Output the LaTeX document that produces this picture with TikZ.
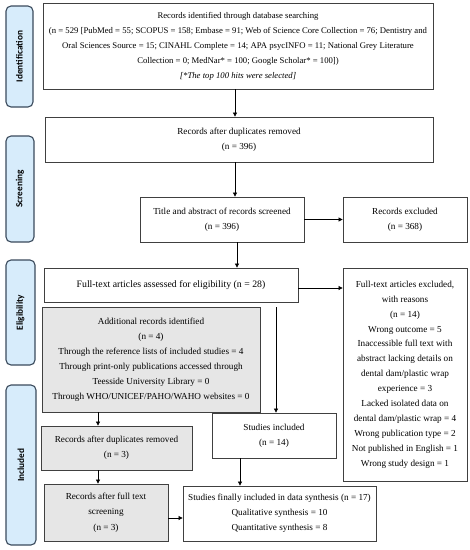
\documentclass[tikz,border=0pt]{standalone}
\usepackage{fontspec}
\setmainfont{Liberation Serif}
\newfontfamily\sidefont{Carlito}
\usetikzlibrary{arrows.meta,calc}
\definecolor{sideblue}{HTML}{D7ECFB}
\definecolor{sideedge}{HTML}{3A4A5C}
\definecolor{boxgray}{HTML}{E6E6E6}
\definecolor{edgegray}{HTML}{404040}
\tikzset{
  box/.style={draw=edgegray, line width=0.8pt, fill=white, inner sep=0pt, align=center,
    font=\fontsize{9.2}{14.8}\selectfont},
  graybox/.style={box, fill=boxgray},
  side/.style={draw=sideedge, line width=1.1pt, fill=sideblue, rounded corners=5pt, inner sep=0pt},
  sidetext/.style={rotate=90, font=\sidefont\bfseries\fontsize{9.3}{10}\selectfont},
  arr/.style={draw=black, line width=0.7pt, -{Triangle[length=4pt,width=4pt]}}
}
\begin{document}
\begin{tikzpicture}[x=1pt,y=-1pt]
\useasboundingbox (0,0) rectangle (470,550);
% side labels
\node[side, minimum width=27pt, minimum height=101pt] (S1) at (19.5,56.5) {};
\node[sidetext] (S1t) at (S1.center) {Identification};
\node[side, minimum width=28pt, minimum height=106pt] (S2) at (20,189) {};
\node[sidetext] (S2t) at (S2.center) {Screening};
\node[side, minimum width=29pt, minimum height=105pt] (S3) at (20.5,312.5) {};
\node[sidetext] (S3t) at (S3.center) {Eligibility};
\node[side, minimum width=30pt, minimum height=160pt] (S4) at (21,465) {};
\node[sidetext] (S4t) at (S4.center) {Included};
% boxes
\node[box, minimum width=390pt, minimum height=86pt, font=\fontsize{8.7}{15}\selectfont] (B1) at (238,46)
 {Records identified through database searching\\
  (n = 529 [PubMed = 55; SCOPUS = 158; Embase = 91; Web of Science Core Collection = 76; Dentistry and\\
  Oral Sciences Source = 15; CINAHL Complete = 14; APA psycINFO = 11; National Grey Literature\\
  Collection = 0; MedNar* = 100; Google Scholar* = 100])\\
  \textit{[*The top 100 hits were selected]}};
\node[box, minimum width=388pt, minimum height=45pt] (B2) at (239,139.5)
 {Records after duplicates removed\\(n = 396)};
\node[box, minimum width=164pt, minimum height=45pt] (B3) at (222,219.5)
 {Title and abstract of records screened\\(n = 396)};
\node[box, minimum width=124pt, minimum height=45pt] (B4) at (405,219.5)
 {Records excluded\\(n = 368)};
\node[box, minimum width=254pt, minimum height=34pt, font=\fontsize{9.8}{12}\selectfont] (B5) at (171,285)
 {Full-text articles assessed for eligibility (n = 28)};
\node[box, minimum width=124pt, minimum height=213pt, font=\fontsize{9.2}{14.9}\selectfont] (B6) at (405,374.5)
 {Full-text articles excluded,\\with reasons\\(n = 14)\\Wrong outcome = 5\\Inaccessible full text with\\abstract lacking details on\\dental dam/plastic wrap\\experience = 3\\Lacked isolated data on\\dental dam/plastic wrap = 4\\Wrong publication type = 2\\Not published in English = 1\\Wrong study design = 1};
\node[graybox, minimum width=218pt, minimum height=105pt, font=\fontsize{9.2}{15}\selectfont] (B7) at (151,359.5)
 {Additional records identified\\(n = 4)\\Through the reference lists of included studies = 4\\Through print-only publications accessed through\\Teesside University Library = 0\\Through WHO/UNICEF/PAHO/WAHO websites = 0};
\node[box, minimum width=124pt, minimum height=45pt] (B8) at (274,435.5)
 {Studies included\\(n = 14)};
\node[graybox, minimum width=151pt, minimum height=44pt] (B9) at (116.5,448)
 {Records after duplicates removed\\(n = 3)};
\node[graybox, minimum width=124pt, minimum height=57pt, font=\fontsize{9.2}{15.5}\selectfont] (B10) at (106,512.5)
 {Records after full text\\screening\\(n = 3)};
\node[box, minimum width=193pt, minimum height=55pt, font=\fontsize{9.2}{15}\selectfont] (B11) at (279.5,513.5)
 {Studies finally included in data synthesis (n = 17)\\Qualitative synthesis = 10\\Quantitative synthesis = 8};
% connectors
\draw[arr] ([xshift=-3pt]B1.south) -- ([xshift=-3pt]B1.south |- B2.north);
\draw[arr] ([xshift=-4pt]B2.south) -- ([xshift=-4pt]B2.south |- B3.north);
\draw[arr] (B3.east) -- (B4.west);
\draw[arr] ([xshift=15pt]B3.south) -- ([xshift=15pt]B3.south |- B5.north);
\draw[arr] ([yshift=-3pt]B5.east) -- ([yshift=-3pt]B5.east -| B6.west);
\coordinate (c1) at (276,307);
\draw[arr] (c1) -- (c1 |- B8.north);
\draw[arr] ([xshift=-53pt]B7.south) -- ([xshift=-53pt]B7.south |- B9.north);
\draw[arr] ([xshift=-18.5pt]B9.south) -- ([xshift=-18.5pt]B9.south |- B10.north);
\draw[arr] ([xshift=-34pt]B8.south) -- ([xshift=-34pt]B8.south |- B11.north);
\draw[arr] ([yshift=-5.5pt]B10.east) -- ([yshift=-5.5pt]B10.east -| B11.west);
\end{tikzpicture}
\end{document}
